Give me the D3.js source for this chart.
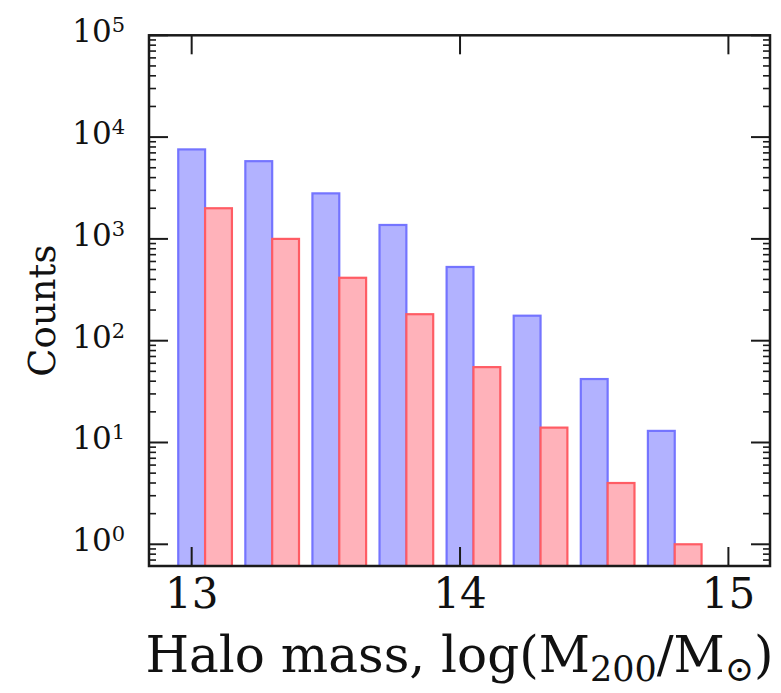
<!DOCTYPE html>
<html>
<head>
<meta charset="utf-8">
<script src="https://cdn.jsdelivr.net/npm/d3@7"></script>
<style>
  body { margin: 0; background: #fff; }
  svg { display: block; }
  text { font-family: "DejaVu Serif", serif; fill: #111; }
</style>
</head>
<body>
<svg id="chart" width="781" height="693"></svg>
<script>
// ---- data ----
const binEdges = [12.925, 13.175, 13.425, 13.675, 13.925, 14.175, 14.425, 14.675, 14.925];
const allCounts = [7570, 5800, 2800, 1370, 530, 176, 42, 13];
const subCounts = [2000, 1000, 415, 182, 55, 14, 4, 1];
const xTicks = [13, 14, 15];
const yTickExps = [0, 1, 2, 3, 4, 5];
const xLabel = "Halo mass, log(M";
const yLabel = "Counts";

// ---- layout ----
const svg = d3.select("#chart");
const L = 149, R = 770, T = 35.3, B = 566;
const x = d3.scaleLinear().domain([12.841, 15.155]).range([L, R]);
const y = d3.scaleLog().domain([0.612, 1e5]).range([B, T]);

svg.append("defs").append("clipPath").attr("id", "clip")
  .append("rect").attr("x", L).attr("y", T).attr("width", R - L).attr("height", B - T);

const bins = allCounts.map((v, i) => ({ x0: binEdges[i], x1: binEdges[i + 1], a: v, b: subCounts[i] }));
const g = svg.append("g").attr("clip-path", "url(#clip)");

// blue (all) bars
g.selectAll("rect.a").data(bins).join("rect").attr("class", "a")
  .attr("x", d => x(d.x0 + 0.1 * (d.x1 - d.x0)))
  .attr("width", d => x(d.x0 + 0.5 * (d.x1 - d.x0)) - x(d.x0 + 0.1 * (d.x1 - d.x0)))
  .attr("y", d => y(d.a))
  .attr("height", d => B + 10 - y(d.a))
  .attr("fill", "#b2b2ff").attr("stroke", "#7474ff").attr("stroke-width", 2.2);

// red (subset) bars
g.selectAll("rect.b").data(bins).join("rect").attr("class", "b")
  .attr("x", d => x(d.x0 + 0.5 * (d.x1 - d.x0)))
  .attr("width", d => x(d.x0 + 0.9 * (d.x1 - d.x0)) - x(d.x0 + 0.5 * (d.x1 - d.x0)))
  .attr("y", d => y(d.b))
  .attr("height", d => B + 10 - y(d.b))
  .attr("fill", "#ffb2ba").attr("stroke", "#ff5c64").attr("stroke-width", 2.2);

// ---- axes (ticks inward) ----
const majorLen = 19, minorLen = 7;
const tickColor = "#1a1a1a";
const minor = [];
for (let e = -1; e < 5; e++) for (let m = 2; m <= 9; m++) {
  const v = m * Math.pow(10, e);
  if (v >= y.domain()[0] && v <= y.domain()[1]) minor.push(v);
}
const majorsY = yTickExps.map(e => Math.pow(10, e));

const axisG = svg.append("g");
// y left & right
[[L, 1], [R, -1]].forEach(([x0, dir]) => {
  axisG.selectAll(null).data(majorsY).join("line")
    .attr("x1", x0).attr("x2", x0 + dir * majorLen)
    .attr("y1", d => y(d)).attr("y2", d => y(d))
    .attr("stroke", tickColor).attr("stroke-width", 2);
  axisG.selectAll(null).data(minor).join("line")
    .attr("x1", x0).attr("x2", x0 + dir * minorLen)
    .attr("y1", d => y(d)).attr("y2", d => y(d))
    .attr("stroke", tickColor).attr("stroke-width", 1.6);
});
// x bottom & top
[[B, -1], [T, 1]].forEach(([y0, dir]) => {
  axisG.selectAll(null).data(xTicks).join("line")
    .attr("x1", d => x(d)).attr("x2", d => x(d))
    .attr("y1", y0).attr("y2", y0 + dir * majorLen)
    .attr("stroke", tickColor).attr("stroke-width", 2);
});
// frame
axisG.append("rect").attr("x", L).attr("y", T).attr("width", R - L).attr("height", B - T)
  .attr("fill", "none").attr("stroke", tickColor).attr("stroke-width", 2.5);

// tick labels
svg.selectAll("text.xt").data(xTicks).join("text").attr("class", "xt")
  .attr("x", d => x(d)).attr("y", 607.5)
  .attr("text-anchor", "middle").attr("font-size", 42).text(d => d);

const yt = svg.selectAll("text.yt").data(yTickExps).join("text").attr("class", "yt")
  .attr("x", 125).attr("y", d => y(Math.pow(10, d)) + 7)
  .attr("text-anchor", "end").attr("font-size", 31);
yt.append("tspan").text("10");
yt.append("tspan").attr("font-size", 21).attr("dy", -10).text(d => d);

// axis labels
const xl = svg.append("text").attr("x", (L + R) / 2).attr("y", 672)
  .attr("text-anchor", "middle").attr("font-size", 50);
xl.append("tspan").text(xLabel);
xl.append("tspan").attr("font-size", 35).attr("dy", 9).text("200");
xl.append("tspan").attr("dy", -9).text("/M");
xl.append("tspan").attr("font-size", 35).attr("dy", 9).text("⊙");
xl.append("tspan").attr("dy", -9).text(")");

svg.append("text").attr("transform", `translate(55, ${(T + B) / 2 + 10}) rotate(-90)`)
  .attr("text-anchor", "middle").attr("font-size", 37).text(yLabel);
</script>
</body>
</html>
